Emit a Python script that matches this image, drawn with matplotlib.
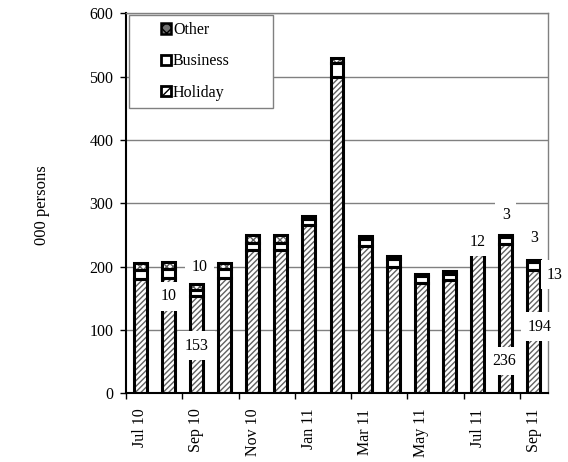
import matplotlib
matplotlib.use("Agg")
import matplotlib.pyplot as plt
import numpy as np
from matplotlib.patches import Patch, Rectangle
from matplotlib.legend_handler import HandlerPatch

months = ["Jul 10", "Aug 10", "Sep 10", "Oct 10", "Nov 10", "Dec 10", "Jan 11",
          "Feb 11", "Mar 11", "Apr 11", "May 11", "Jun 11", "Jul 11", "Aug 11", "Sep 11"]
holiday = [180, 182, 153, 182, 227, 227, 265, 500, 233, 200, 174, 179, 220, 236, 194]
business = [14, 14, 10, 14, 11, 11, 10, 22, 10, 12, 11, 10, 12, 11, 13]
other = [12, 12, 10, 10, 12, 12, 5, 8, 5, 4, 4, 4, 3, 3, 3]
tick_labels = ["Jul 10", "Sep 10", "Nov 10", "Jan 11", "Mar 11", "May 11", "Jul 11", "Sep 11"]

# data labels: (category position, value position, text)
label_pos = [(1.0, 153, "10"), (2.1, 200, "10"), (2.0, 75, "153"),
             (12.0, 239, "12"), (13.0, 281, "3"), (12.93, 51, "236"),
             (14.0, 245, "3"), (14.2, 105, "194"), (14.75, 187, "13")]

plt.rcParams['font.family'] = ['Liberation Serif', 'DejaVu Serif']
plt.rcParams['hatch.linewidth'] = 1.0

fig = plt.figure(figsize=(5.68, 4.62), dpi=100)
ax = fig.add_axes([126/568, 1-393.3/462, 422/568, 380/462])

x = np.arange(len(months))
w = 0.46
hol = np.array(holiday)
bus = np.array(business)
oth = np.array(other)

segs = [(hol, 0 * hol, "white", "//////", "#606060"),
        (bus, hol, "white", None, "white"),
        (oth, hol + bus, "white", "xxxxx", "#606060")]
for vals, bottom, fc, hatch, hc in segs:
    ax.bar(x, vals, w, bottom=bottom, color=fc, hatch=hatch, edgecolor=hc, linewidth=0, zorder=2)
    ax.bar(x, vals, w, bottom=bottom, fill=False, edgecolor="black", linewidth=2.2, zorder=3)

for xi, yv, t in label_pos:
    ax.text(xi, yv, t, ha="center", va="center", fontsize=11.5, zorder=5,
            bbox=dict(boxstyle="square,pad=0.4", fc="white", ec="none"))

ax.set_xlim(-0.5, len(months) - 0.5)
ax.set_ylim(0, 600)
ax.set_yticks(np.arange(0, 601, 100))
ax.yaxis.grid(True, color="#808080", linewidth=1.0, zorder=0)
ax.set_axisbelow(True)
ax.tick_params(axis="y", direction="out", length=4, width=1, labelsize=11.5, pad=5)

ax.set_xticks(np.arange(-0.5, len(months), 2))
ax.set_xticklabels([])
ax.set_xticks(np.arange(0, len(months), 2), minor=True)
ax.set_xticklabels(tick_labels, minor=True, rotation=90, fontsize=11.5)
ax.tick_params(axis="x", which="major", direction="out", length=4, width=1)
ax.tick_params(axis="x", which="minor", length=0, pad=11)

for s in ["left", "bottom"]:
    ax.spines[s].set_color("black")
    ax.spines[s].set_linewidth(1.5)
for s in ["top", "right"]:
    ax.spines[s].set_color("#808080")
    ax.spines[s].set_linewidth(1.0)

fig.text(42/568, 1 - 205/462, "000 persons", rotation=90, ha="center", va="center", fontsize=12)

def make_square(legend, orig_handle, xdescent, ydescent, width, height, fontsize):
    s = height * 1.0
    return Rectangle((-xdescent + width - s, -ydescent), s, s)

h_other = Patch(facecolor="#707070", hatch="xxx", edgecolor="black", linewidth=1.8)
h_bus = Patch(facecolor="white", edgecolor="black", linewidth=2)
h_hol = Patch(facecolor="white", hatch="////", edgecolor="black", linewidth=2)
leg = ax.legend([h_other, h_bus, h_hol], ["Other", "Business", "Holiday"],
                loc="upper left", bbox_to_anchor=(3/422, (393.3-15)/380, 144/422, 0.0),
                mode="expand", borderaxespad=0, fontsize=11.5, frameon=True,
                fancybox=False, edgecolor="#808080", framealpha=1,
                handlelength=2.2, handleheight=0.6, handletextpad=0.1,
                labelspacing=0.95, borderpad=0.45,
                handler_map={Patch: HandlerPatch(patch_func=make_square)})
leg.get_frame().set_linewidth(1.0)

fig.savefig("out.png", dpi=100)
